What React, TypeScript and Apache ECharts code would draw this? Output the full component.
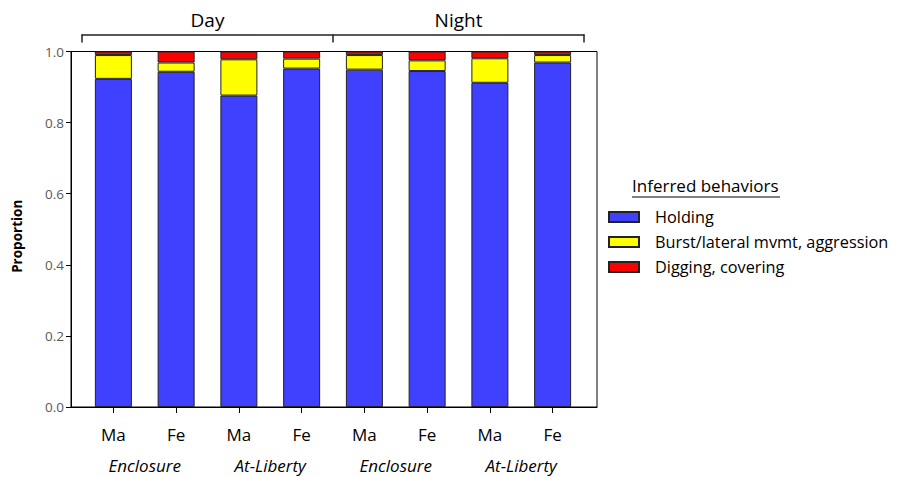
import React, { useEffect, useRef } from "react";
import * as echarts from "echarts";

// Bar labels, grouping labels and period labels
const categories = ["Ma", "Fe", "Ma", "Fe", "Ma", "Fe", "Ma", "Fe"];
const sites = ["Enclosure", "At-Liberty", "Enclosure", "At-Liberty"];
const periods = ["Day", "Night"];

// Proportion of each inferred behavior per bar
const holding = [0.923, 0.943, 0.876, 0.952, 0.949, 0.945, 0.912, 0.969];
const burst = [0.067, 0.026, 0.102, 0.028, 0.041, 0.03, 0.069, 0.021];
const digging = [0.01, 0.031, 0.022, 0.02, 0.01, 0.025, 0.019, 0.01];

const seriesNames = ["Holding", "Burst/lateral mvmt, aggression", "Digging, covering"];
const seriesColors = ["#4040FF", "#FFFF00", "#FF0000"];

const FONT = "'Open Sans', Lato, sans-serif";

export default function App() {
  const ref = useRef<HTMLDivElement>(null);

  useEffect(() => {
    if (!ref.current) return;
    const chart = echarts.init(ref.current, undefined, { renderer: "svg" });
    const values = [holding, burst, digging];

    const option: any = {
      animation: false,
      backgroundColor: "#fff",
      textStyle: { fontFamily: FONT },
      grid: [
        {
          left: 71,
          top: 51.5,
          width: 526,
          height: 355.5,
          show: true,
          borderColor: "#000",
          borderWidth: 1,
          backgroundColor: "transparent",
        },
        { left: 82, top: 51.5, width: 502, height: 355.5 },
      ],
      xAxis: [
        {
          gridIndex: 0,
          type: "value",
          min: 0,
          max: 1,
          axisLine: { show: true, lineStyle: { color: "#000", width: 1 } },
          axisTick: { show: false },
          axisLabel: { show: false },
          splitLine: { show: false },
        },
        {
          gridIndex: 1,
          type: "category",
          data: categories,
          axisLine: { show: false },
          axisTick: { show: true, alignWithLabel: true, length: 6, lineStyle: { color: "#000" } },
          axisLabel: { fontSize: 17, margin: 19, color: "#000", fontFamily: FONT },
        },
        {
          gridIndex: 1,
          type: "category",
          data: sites,
          position: "bottom",
          axisLine: { show: false },
          axisTick: { show: false },
          axisLabel: { fontSize: 17, margin: 50, color: "#000", fontStyle: "italic", fontFamily: FONT },
        },
        {
          gridIndex: 1,
          type: "category",
          data: periods,
          position: "top",
          offset: 17,
          axisLine: { show: true, lineStyle: { color: "#222", width: 1.5 } },
          axisTick: { show: true, inside: true, length: 8, alignWithLabel: false, lineStyle: { color: "#222", width: 1.5 } },
          axisLabel: { fontSize: 19, margin: 5, color: "#000", fontFamily: FONT },
        },
      ],
      yAxis: [
        {
          gridIndex: 0,
          type: "value",
          min: 0,
          max: 1,
          interval: 0.2,
          name: "Proportion",
          nameLocation: "middle",
          nameGap: 47,
          nameTextStyle: {
            fontSize: 13.5,
            fontWeight: "bold",
            color: "#000",
            fontFamily: FONT,
            padding: [0, 14, 0, 0],
          },
          axisLine: { show: true, lineStyle: { color: "#000", width: 1 } },
          axisTick: { show: true, length: 5, lineStyle: { color: "#000" } },
          axisLabel: {
            fontSize: 13.5,
            margin: 7,
            color: "#595959",
            fontFamily: FONT,
            formatter: (v: number) => v.toFixed(1),
          },
          splitLine: { show: false },
        },
        { gridIndex: 1, type: "value", min: 0, max: 1, show: false },
      ],
      legend: {
        orient: "vertical",
        left: 603,
        top: 203.5,
        itemWidth: 30,
        itemHeight: 10,
        itemGap: 8,
        icon: "rect",
        selectedMode: false,
        data: seriesNames,
        textStyle: {
          fontSize: 16.3,
          lineHeight: 17,
          color: "#000",
          fontFamily: FONT,
          padding: [0, 0, 0, 11],
        },
      },
      graphic: [
        {
          type: "text",
          left: 632,
          top: 177,
          style: { text: "Inferred behaviors", fontSize: 17, fill: "#000", fontFamily: FONT },
        },
        {
          type: "line",
          shape: { x1: 632, y1: 197, x2: 780, y2: 197 },
          style: { stroke: "#000", lineWidth: 1 },
        },
      ],
      series: seriesNames.map((name, i) => ({
        name,
        type: "bar",
        stack: "total",
        xAxisIndex: 1,
        yAxisIndex: 1,
        barWidth: 37,
        data: values[i],
        itemStyle: { color: seriesColors[i], borderColor: "#222", borderWidth: 1 },
      })),
    };

    chart.setOption(option);
    return () => chart.dispose();
  }, []);

  return (
    <div
      ref={ref}
      style={{ position: "fixed", left: 0, top: 0, width: 898, height: 477 }}
    />
  );
}
